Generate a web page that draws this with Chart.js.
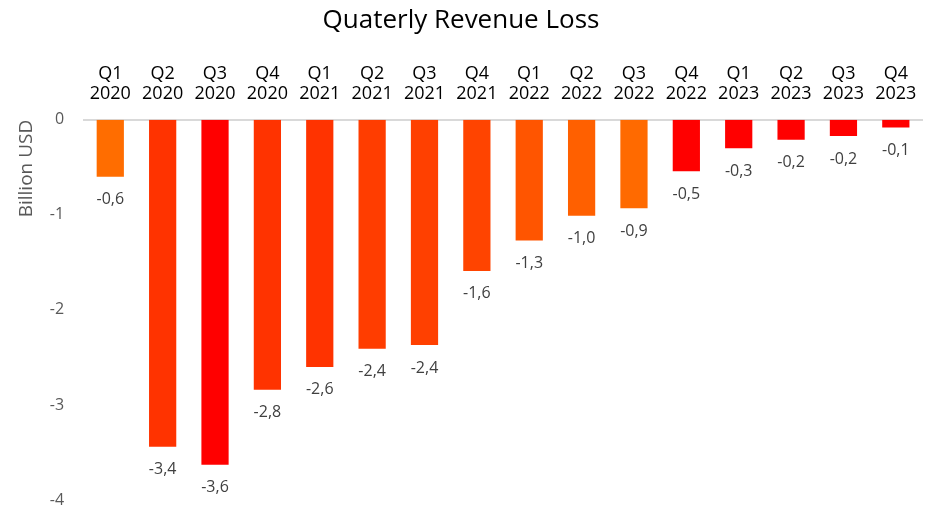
<!DOCTYPE html>
<html>
<head>
<meta charset="utf-8">
<script src="https://cdn.jsdelivr.net/npm/chart.js@4"></script>
<style>
  body { margin: 0; background: #fff; }
  #wrap { width: 926px; height: 510px; }
</style>
</head>
<body>
<div id="wrap"><canvas id="lossChart" width="926" height="510"></canvas></div>
<script>
// quarters along the top axis
const quarters = ['Q1', 'Q2', 'Q3', 'Q4', 'Q1', 'Q2', 'Q3', 'Q4', 'Q1', 'Q2', 'Q3', 'Q4', 'Q1', 'Q2', 'Q3', 'Q4'];
const years = ['2020', '2020', '2020', '2020', '2021', '2021', '2021', '2021', '2022', '2022', '2022', '2022', '2023', '2023', '2023', '2023'];
// revenue loss, billion USD
const loss = [-0.6, -3.44, -3.63, -2.84, -2.6, -2.41, -2.37, -1.59, -1.27, -1.01, -0.93, -0.54, -0.3, -0.21, -0.17, -0.08];
const barColors = ['#FF6D00', '#FF3300', '#FF0000', '#FF3300', '#FF3300', '#FF3D00', '#FF4000', '#FF4400',
                   '#FF5500', '#FF6000', '#FF6A00', '#FF0000', '#FF0000', '#FF0000', '#FF0000', '#FF0000'];
const yTicks = [0, -1, -2, -3, -4];

const font = "'Open Sans', 'Liberation Sans', sans-serif";

// value labels under each bar, decimal comma
const valueLabels = {
  id: 'valueLabels',
  afterDatasetsDraw(chart) {
    const ctx = chart.ctx;
    const meta = chart.getDatasetMeta(0);
    ctx.save();
    ctx.font = '16px ' + font;
    ctx.fillStyle = '#404040';
    ctx.textAlign = 'center';
    ctx.textBaseline = 'middle';
    meta.data.forEach((bar, i) => {
      const txt = loss[i].toFixed(1).replace('.', ',');
      ctx.fillText(txt, bar.x, bar.y + 23);
    });
    ctx.restore();
  }
};

new Chart(document.getElementById('lossChart'), {
  type: 'bar',
  data: {
    labels: quarters.map((q, i) => [q, years[i]]),
    datasets: [{
      data: loss,
      backgroundColor: barColors,
      barPercentage: 0.52,
      categoryPercentage: 1
    }]
  },
  options: {
    responsive: false,
    animation: false,
    layout: { padding: { left: 0, right: 4, top: 0, bottom: 10 } },
    plugins: {
      legend: { display: false },
      tooltip: { enabled: false },
      title: {
        display: true,
        text: 'Quaterly Revenue Loss',
        color: '#000',
        font: { family: font, size: 26, weight: 'normal', lineHeight: 1.2 },
        padding: { top: 5, bottom: 20 }
      }
    },
    scales: {
      x: {
        position: 'top',
        grid: { display: false },
        border: { color: '#D9D9D9', width: 2 },
        ticks: { color: '#000', font: { family: font, size: 18, lineHeight: 1.1 }, maxRotation: 0, padding: 8 }
      },
      y: {
        min: -4,
        max: 0,
        afterBuildTicks(axis) { axis.ticks = yTicks.map(v => ({ value: v })); },
        afterFit(axis) { axis.paddingTop = 0; axis.paddingBottom = 0; },
        grid: { display: false },
        border: { display: false },
        ticks: { color: '#595959', font: { family: font, size: 16 }, padding: 12 },
        title: {
          display: true,
          text: 'Billion USD',
          align: 'end',
          color: '#595959',
          font: { family: font, size: 19 },
          padding: { top: 15, bottom: 0 }
        }
      }
    }
  },
  plugins: [valueLabels]
});
</script>
</body>
</html>
